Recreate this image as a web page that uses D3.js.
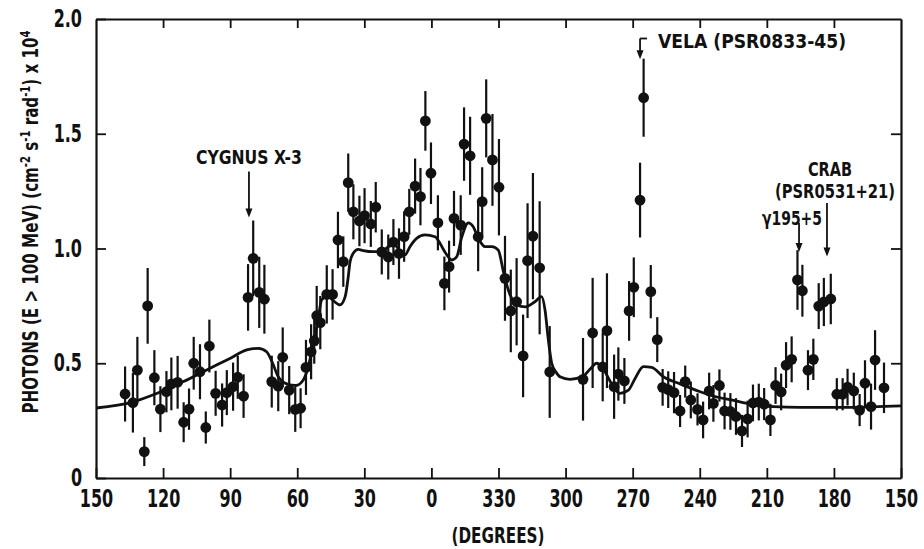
<!DOCTYPE html>
<html><head><meta charset="utf-8">
<script src="https://cdn.jsdelivr.net/npm/d3@7"></script>
<style>
body{margin:0;background:#fff;}
svg{display:block;}
text{font-family:'DejaVu Sans Condensed','DejaVu Sans',sans-serif;font-stretch:condensed;font-weight:bold;fill:#111;}
</style></head><body>
<svg id="chart" width="924" height="549"></svg>
<script>
// Galactic longitude (unwrapped: negative values mean 360+l)
const longitudes = [
 137.0,133.5,131.5,128.4,126.9,123.9,121.2,118.5,116.3,113.5,
 110.8,108.4,106.3,103.5,100.9,99.3,96.5,93.6,91.5,88.7,
 86.6,84.0,82.0,79.7,77.0,74.7,71.4,68.5,66.5,63.6,
 60.9,58.5,56.1,53.8,52.4,51.3,49.7,46.8,44.2,41.8,
 39.4,37.2,34.9,32.2,29.9,27.1,24.9,22.2,19.3,17.0,
 14.5,12.2,9.9,7.3,4.9,2.7,0.2,-2.9,-5.8,-7.9,
 -10.1,-13.1,-14.6,-17.3,-20.9,-22.7,-24.5,-27.3,-30.2,-32.9,
 -35.5,-38.1,-41.0,-43.0,-45.4,-48.4,-52.9,-67.8,-72.1,-76.6,
 -78.5,-81.7,-83.6,-86.3,-88.4,-90.5,-93.3,-94.9,-98.1,-101.0,
 -103.4,-105.9,-108.5,-111.2,-113.5,-116.0,-119.0,-121.5,-124.2,-126.1,
 -128.8,-131.1,-133.7,-136.2,-138.9,-141.4,-143.8,-146.4,-148.8,-151.6,
 -153.9,-156.4,-158.6,-161.1,-163.7,-165.9,-168.4,-170.8,-173.2,-175.5,
 -178.6,-181.3,-183.9,-186.1,-188.9,-191.5,-193.9,-196.6,-198.4,-202.4];
const photonFlux = [
 .366,.328,.47,.115,.75,.437,.30,.376,.41,.417,
 .243,.30,.50,.463,.22,.575,.369,.318,.372,.398,
 .439,.357,.787,.957,.809,.779,.42,.40,.526,.383,
 .299,.304,.482,.55,.598,.707,.677,.80,.80,1.037,
 .943,1.287,1.16,1.12,1.143,1.107,1.18,.985,.963,1.028,
 .978,1.052,1.16,1.272,1.226,1.556,1.328,1.112,.848,.921,
 1.131,1.102,1.455,1.404,1.051,1.204,1.567,1.386,1.267,.87,
 .728,.768,.532,.947,1.054,.916,.462,.43,.632,.484,
 .642,.398,.453,.423,.728,.831,1.211,1.657,.812,.603,
 .395,.385,.372,.292,.42,.34,.299,.253,.379,.325,
 .403,.292,.29,.268,.205,.257,.327,.331,.322,.253,
 .403,.375,.492,.517,.863,.816,.47,.517,.749,.767,
 .78,.365,.365,.396,.379,.296,.413,.311,.514,.393];
const fluxErrors = [
 .12,.13,.145,.063,.165,.12,.10,.09,.115,.115,
 .087,.09,.115,.12,.07,.115,.098,.094,.098,.105,
 .094,.095,.145,.165,.155,.15,.113,.109,.13,.105,
 .098,.087,.12,.12,.10,.13,.116,.127,.11,.123,
 .11,.127,.12,.11,.12,.10,.11,.098,.098,.10,
 .11,.11,.10,.12,.125,.13,.134,.12,.117,.113,
 .12,.13,.16,.17,.15,.15,.17,.20,.21,.185,
 .18,.19,.18,.25,.275,.29,.2,.18,.24,.15,
 .25,.14,.116,.1,.13,.13,.163,.17,.116,.098,
 .08,.08,.09,.07,.07,.08,.07,.08,.08,.08,
 .07,.08,.08,.08,.07,.08,.08,.08,.07,.07,
 .08,.08,.1,.1,.13,.113,.087,.09,.1,.105,
 .11,.07,.07,.08,.08,.07,.1,.1,.13,.11];
// Model curve
const curveLongitudes = [150,133.3,122.9,110.9,100.5,90.1,82.6,77.4,73.7,71.0,
 68.5,64.7,60.6,57.3,55.1,52.8,50.7,49.1,46.5,43.9,
 40.9,38.6,37.2,36.4,34.9,32.7,30.5,26.0,22.2,19.3,
 16.3,14.0,11.8,9.6,6.6,2.9,-1.6,-3.8,-6.4,-9.1,
 -11.3,-13.6,-16.5,-18.7,-21.0,-24.0,-27.0,-29.9,-32.2,-34.4,
 -38.2,-41.9,-46.3,-49.3,-50.8,-52.3,-53.8,-55.7,-57.5,-62.0,
 -67.9,-71.0,-73.9,-76.5,-80.6,-84.3,-88.1,-91.1,-94.8,-98.5,
 -103.7,-111.2,-120.2,-127.6,-135.1,-142.5,-152.9,-164.9,-187.2,-210];
const curveFlux = [.305,.332,.368,.420,.471,.521,.558,.565,.550,.500,
 .441,.410,.403,.427,.484,.587,.688,.776,.793,.773,
 .754,.789,.876,.941,.980,.996,.991,.986,.986,1.008,
 1.015,.986,.972,1.008,1.044,1.059,1.051,1.023,.979,.950,
 .964,1.051,1.112,1.095,1.044,1.008,1.008,.993,.899,.819,
 .754,.746,.768,.790,.732,.601,.500,.462,.441,.430,
 .444,.475,.50,.48,.41,.369,.383,.434,.485,.482,
 .441,.410,.376,.353,.338,.322,.311,.308,.308,.314];
const xTickValues = [150,120,90,60,30,0,-30,-60,-90,-120,-150,-180,-210];
const yTickValues = [0,0.5,1,1.5,2];
// Source annotations
const sourceNames = ["CYGNUS X-3","VELA (PSR0833-45)","\u03B3195+5","CRAB","(PSR0531+21)"];
const sourceLongitudes = [81.6,-93.3,-164.4,-176.9];
const arrowTops = [1.335,1.915,1.111,1.198];
const arrowTips = [1.135,1.825,0.985,0.965];

const svg = d3.select("#chart");
const x = d3.scaleLinear().domain([150,-210]).range([96,901]);
const y = d3.scaleLinear().domain([0,2]).range([478,19]);
const ink = "#111";
const squeeze = 0.74;

// Axes (frame with inward ticks)
const fmtX = d => String(((d % 360) + 360) % 360);
const fmtY = d => d === 0 ? "0" : d3.format(".1f")(d);
const gB = svg.append("g").attr("transform",`translate(0,${y(0)})`)
  .call(d3.axisBottom(x).tickValues(xTickValues).tickFormat(fmtX).tickSize(-10).tickSizeOuter(0).tickPadding(12));
const gT = svg.append("g").attr("transform",`translate(0,${y(2)})`)
  .call(d3.axisTop(x).tickValues(xTickValues.slice(1,-1)).tickFormat("").tickSize(-9).tickSizeOuter(0));
const gL = svg.append("g").attr("transform",`translate(${x(150)},0)`)
  .call(d3.axisLeft(y).tickValues(yTickValues).tickFormat(fmtY).tickSize(-10).tickSizeOuter(0).tickPadding(14/squeeze));
const gR = svg.append("g").attr("transform",`translate(${x(-210)},0)`)
  .call(d3.axisRight(y).tickValues(yTickValues.slice(1,-1)).tickFormat("").tickSize(-10).tickSizeOuter(0));
[gB,gT,gL,gR].forEach(g=>{
  g.select(".domain").attr("stroke",ink).attr("stroke-width",2.2);
  g.selectAll(".tick line").attr("stroke",ink).attr("stroke-width",1.8);
  g.selectAll(".tick text").attr("fill",ink).style("font-size","24px")
    .style("font-weight","bold").attr("transform",`scale(${squeeze},1)`);
});

// Error bars
const pts = longitudes.map((l,i)=>({l, v:photonFlux[i], e:fluxErrors[i]}));
svg.append("g").selectAll("line").data(pts).join("line")
  .attr("x1",d=>x(d.l)).attr("x2",d=>x(d.l))
  .attr("y1",d=>y(d.v-d.e)).attr("y2",d=>y(d.v+d.e))
  .attr("stroke",ink).attr("stroke-width",2.2);

// Model curve
const curvePts = curveLongitudes.map((l,i)=>[l,curveFlux[i]]);
svg.append("path").datum(curvePts)
  .attr("fill","none").attr("stroke",ink).attr("stroke-width",2.8)
  .attr("d",d3.line().x(d=>x(d[0])).y(d=>y(d[1])).curve(d3.curveMonotoneX));

// Points
svg.append("g").selectAll("circle").data(pts).join("circle")
  .attr("cx",d=>x(d.l)).attr("cy",d=>y(d.v)).attr("r",5.4).attr("fill",ink);

// Annotation arrows
const ann = svg.append("g");
sourceLongitudes.forEach((l,i)=>{
  const ax = x(l), y0 = y(arrowTops[i]), y1 = y(arrowTips[i]);
  ann.append("line").attr("x1",ax).attr("x2",ax).attr("y1",y0).attr("y2",y1-6)
    .attr("stroke",ink).attr("stroke-width",1.8);
  ann.append("path").attr("d",`M${ax-3.5},${y1-9}L${ax+3.5},${y1-9}L${ax},${y1}Z`).attr("fill",ink);
});
// Vela bracket
ann.append("line").attr("x1",x(sourceLongitudes[1])).attr("x2",x(sourceLongitudes[1])+7)
  .attr("y1",y(arrowTops[1])).attr("y2",y(arrowTops[1])).attr("stroke",ink).attr("stroke-width",1.8);

// Labels fitted to the reference lettering widths
const lab = (t,xx,yy,anchor,size,len)=>svg.append("text")
  .attr("x",xx).attr("y",yy).attr("text-anchor",anchor).style("font-size",size+"px")
  .attr("textLength",len).attr("lengthAdjust","spacingAndGlyphs").text(t);
lab(sourceNames[0], x(sourceLongitudes[0]), 164, "middle", 20, 106);
lab(sourceNames[1], x(sourceLongitudes[1])+18, 48, "start", 20, 188);
lab(sourceNames[2], 792, 225, "middle", 20, 60);
lab(sourceNames[3], 830, 176, "middle", 20, 44);
lab(sourceNames[4], 835, 198, "middle", 20, 120);

// Axis titles
lab("(DEGREES)", 498, 543, "middle", 22, 93);
const yt = svg.append("text").attr("transform",`translate(38,222) rotate(-90) scale(0.8,1)`)
  .attr("text-anchor","middle").style("font-size","21px");
yt.append("tspan").text("PHOTONS (E > 100 MeV) (cm");
yt.append("tspan").attr("dy",-8).style("font-size","14px").text("-2");
yt.append("tspan").attr("dy",8).text(" s");
yt.append("tspan").attr("dy",-8).style("font-size","14px").text("-1");
yt.append("tspan").attr("dy",8).text(" rad");
yt.append("tspan").attr("dy",-8).style("font-size","14px").text("-1");
yt.append("tspan").attr("dy",8).text(") x 10");
yt.append("tspan").attr("dy",-8).style("font-size","14px").text("4");
</script>
</body></html>
